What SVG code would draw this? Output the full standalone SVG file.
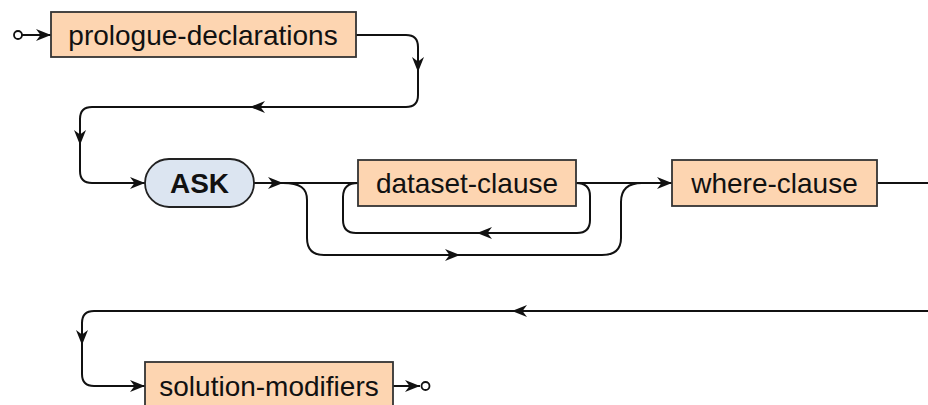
<svg xmlns="http://www.w3.org/2000/svg" xmlns:xlink="http://www.w3.org/1999/xlink" width="928" height="405" viewBox="0 0 928 405">
  <style>
    .nt { fill: #fdd5b1; stroke: #333; stroke-width: 1.8; }
    .kw { fill: #dce5f1; stroke: #222; stroke-width: 1.8; }
    .lbl { font-family: "Liberation Sans", Arial, sans-serif; font-size: 28px; fill: #111; text-anchor: middle; }
    .bold { font-weight: bold; }
    .wire { fill: none; stroke: #111; stroke-width: 2; }
    .end { fill: #fff; stroke: #111; stroke-width: 1.8; }
  </style>
  <defs>
    <path id="arr" d="M0,0 L-15,-6 L-10.5,0 L-15,6 Z" fill="#111"/>
  </defs>

  <g id="connectors">
    <!-- entry -->
    <circle class="end" cx="18" cy="35" r="4"/>
    <path class="wire" d="M22,35 H51"/>
    <use xlink:href="#arr" transform="translate(51,35)"/>
    <!-- prologue to ASK -->
    <path class="wire" d="M356,35 H406 Q418,35 418,47 V95 Q418,107 406,107 H92 Q80,107 80,119 V171 Q80,183 92,183 H145"/>
    <use xlink:href="#arr" transform="translate(418,72) rotate(90)"/>
    <use xlink:href="#arr" transform="translate(250,107) rotate(180)"/>
    <use xlink:href="#arr" transform="translate(80,145) rotate(90)"/>
    <use xlink:href="#arr" transform="translate(145,183)"/>
    <!-- ASK to dataset-clause -->
    <path class="wire" d="M253,183 H358"/>
    <use xlink:href="#arr" transform="translate(283,183)"/>
    <!-- bypass of dataset-clause -->
    <path class="wire" d="M283,183 C300,183 307,188 307,200 V238 Q307,255 324,255 H602 Q621,255 621,238 V202 Q621,183 642,183"/>
    <use xlink:href="#arr" transform="translate(460,255)"/>
    <!-- repeat loop of dataset-clause -->
    <path class="wire" d="M576,183 Q590,183 590,196 V220 Q590,233 577,233 H356 Q343,233 343,220 V197 Q343,183 358,183"/>
    <use xlink:href="#arr" transform="translate(477,233) rotate(180)"/>
    <!-- dataset-clause to where-clause -->
    <path class="wire" d="M576,183 H672"/>
    <use xlink:href="#arr" transform="translate(672,183)"/>
    <!-- where-clause onward -->
    <path class="wire" d="M877,183 H928"/>
    <!-- return to solution-modifiers -->
    <path class="wire" d="M928,311 H94 Q82,311 82,323 V374 Q82,386 94,386 H145"/>
    <use xlink:href="#arr" transform="translate(512,311) rotate(180)"/>
    <use xlink:href="#arr" transform="translate(82,345) rotate(90)"/>
    <use xlink:href="#arr" transform="translate(145,386)"/>
    <!-- exit -->
    <path class="wire" d="M393,386 H420"/>
    <use xlink:href="#arr" transform="translate(420,386)"/>
    <circle class="end" cx="425.5" cy="386" r="4"/>
  </g>

  <g id="prologue-declarations">
    <rect class="nt" x="51" y="12" width="305" height="45"/>
    <text class="lbl" x="203" y="44.5">prologue-declarations</text>
  </g>

  <g id="ask">
    <rect class="kw" x="145" y="159" width="109" height="48" rx="24" ry="24"/>
    <text class="lbl bold" x="199.5" y="193">ASK</text>
  </g>

  <g id="dataset-clause">
    <rect class="nt" x="358" y="160" width="218" height="46"/>
    <text class="lbl" x="467" y="193">dataset-clause</text>
  </g>

  <g id="where-clause">
    <rect class="nt" x="672" y="160" width="205" height="46"/>
    <text class="lbl" x="774.5" y="193">where-clause</text>
  </g>

  <g id="solution-modifiers">
    <rect class="nt" x="145" y="362" width="248" height="48"/>
    <text class="lbl" x="269" y="396">solution-modifiers</text>
  </g>
</svg>
